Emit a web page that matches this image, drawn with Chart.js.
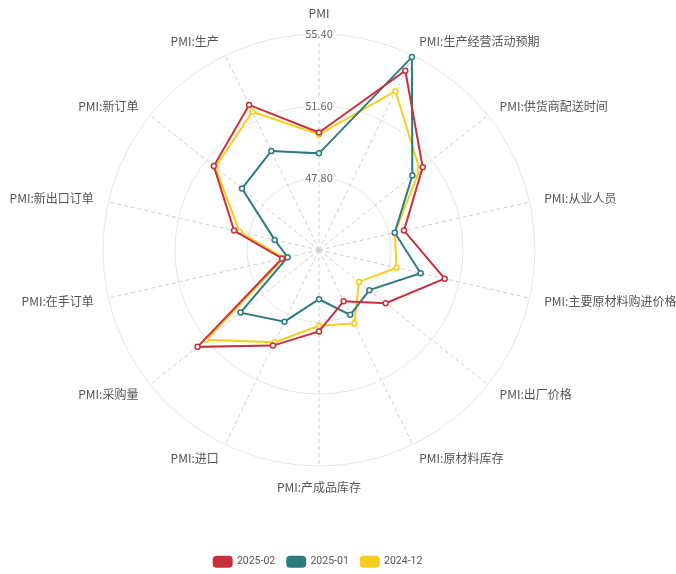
<!DOCTYPE html>
<html>
<head>
<meta charset="utf-8">
<script src="https://cdn.jsdelivr.net/npm/chart.js@4/dist/chart.umd.min.js"></script>
<style>
  html, body { margin: 0; padding: 0; background: #ffffff; }
  canvas { display: block; }
</style>
</head>
<body>
<canvas id="pmiRadar" width="676" height="574"></canvas>
<script>
// Manufacturing PMI and its sub-indices
const indicators = [
  'PMI', 'PMI:生产经营活动预期', 'PMI:供货商配送时间', 'PMI:从业人员',
  'PMI:主要原材料购进价格', 'PMI:出厂价格', 'PMI:原材料库存', 'PMI:产成品库存',
  'PMI:进口', 'PMI:采购量', 'PMI:在手订单', 'PMI:新出口订单', 'PMI:新订单', 'PMI:生产'
];
const seriesNames = ['2025-02', '2025-01', '2024-12'];
const pmi202502 = [50.2, 54.5, 51.0, 48.6, 50.8, 48.5, 47.0, 48.3, 49.6, 52.2, 46.0, 48.6, 51.1, 52.5];
const pmi202501 = [49.1, 55.3, 50.3, 48.1, 49.5, 47.4, 47.8, 46.6, 48.2, 49.3, 45.7, 46.4, 49.2, 49.8];
const pmi202412 = [50.1, 53.3, 50.8, 48.1, 48.2, 46.7, 48.3, 48.0, 49.4, 51.6, 45.9, 48.3, 51.0, 52.1];
const tickValues = [44.0, 47.8, 51.6, 55.4];

const palette = ['#c8303c', '#2e7b7f', '#f7cd1e'];
const FONT = "'Noto Sans CJK SC', 'Noto Sans', sans-serif";

// Radar geometry on the canvas
const CENTER_X = 319;
const CENTER_Y = 250;
const RADIUS = 216;
const NAME_GAP = 15;

// Indicator names sit at the end of each spoke, vertically centred
const indicatorNames = {
  id: 'indicatorNames',
  afterDraw(chart) {
    const scale = chart.scales.r;
    const ctx = chart.ctx;
    ctx.save();
    ctx.font = '12px ' + FONT;
    ctx.fillStyle = '#555555';
    indicators.forEach((name, i) => {
      const p = scale.getPointPosition(i, scale.drawingArea + NAME_GAP);
      const c = Math.cos(p.angle), s = Math.sin(p.angle);
      let align, base;
      if (Math.abs(c) < 0.01) {
        align = 'center';
        base = s < 0 ? 'bottom' : 'top';
      } else {
        align = c > 0 ? 'left' : 'right';
        base = 'middle';
      }
      ctx.textAlign = align;
      ctx.textBaseline = base;
      ctx.fillText(name, p.x, p.y);
    });
    ctx.restore();
  }
};

const seriesData = [pmi202502, pmi202501, pmi202412];

new Chart(document.getElementById('pmiRadar'), {
  type: 'radar',
  data: {
    labels: indicators,
    datasets: seriesNames.map((name, k) => ({
      label: name,
      data: seriesData[k],
      borderColor: palette[k],
      backgroundColor: palette[k],
      borderWidth: 2,
      fill: false,
      pointRadius: 2.5,
      pointBorderWidth: 1.5,
      pointBackgroundColor: '#ffffff',
      pointBorderColor: palette[k],
      tension: 0
    }))
  },
  plugins: [indicatorNames],
  options: {
    responsive: false,
    animation: false,
    devicePixelRatio: 1,
    layout: { padding: { top: 0, left: 0, right: 40, bottom: -3 } },
    plugins: {
      legend: {
        position: 'bottom',
        labels: {
          boxWidth: 18,
          boxHeight: 10,
          useBorderRadius: true,
          borderRadius: 3,
          padding: 12,
          color: '#555555',
          font: { family: "Roboto, 'Liberation Sans', sans-serif", size: 10.5 }
        }
      },
      tooltip: { enabled: false }
    },
    scales: {
      r: {
        min: tickValues[0],
        max: tickValues[tickValues.length - 1],
        startAngle: 0,
        afterBuildTicks(scale) {
          scale.ticks = tickValues.map(v => ({ value: v }));
        },
        afterFit(scale) {
          scale.xCenter = CENTER_X;
          scale.yCenter = CENTER_Y;
          scale.drawingArea = RADIUS;
        },
        grid: {
          circular: true,
          color: '#e6e6e6',
          lineWidth: 1
        },
        angleLines: {
          color: '#cfcfcf',
          lineWidth: 1,
          borderDash: [4, 3]
        },
        pointLabels: { display: false },
        ticks: {
          color: '#666666',
          font: { family: FONT, size: 11 },
          showLabelBackdrop: true,
          backdropColor: 'rgba(255,255,255,0.85)',
          backdropPadding: 1,
          callback: v => Number(v).toFixed(2)
        }
      }
    }
  }
});
</script>
</body>
</html>
